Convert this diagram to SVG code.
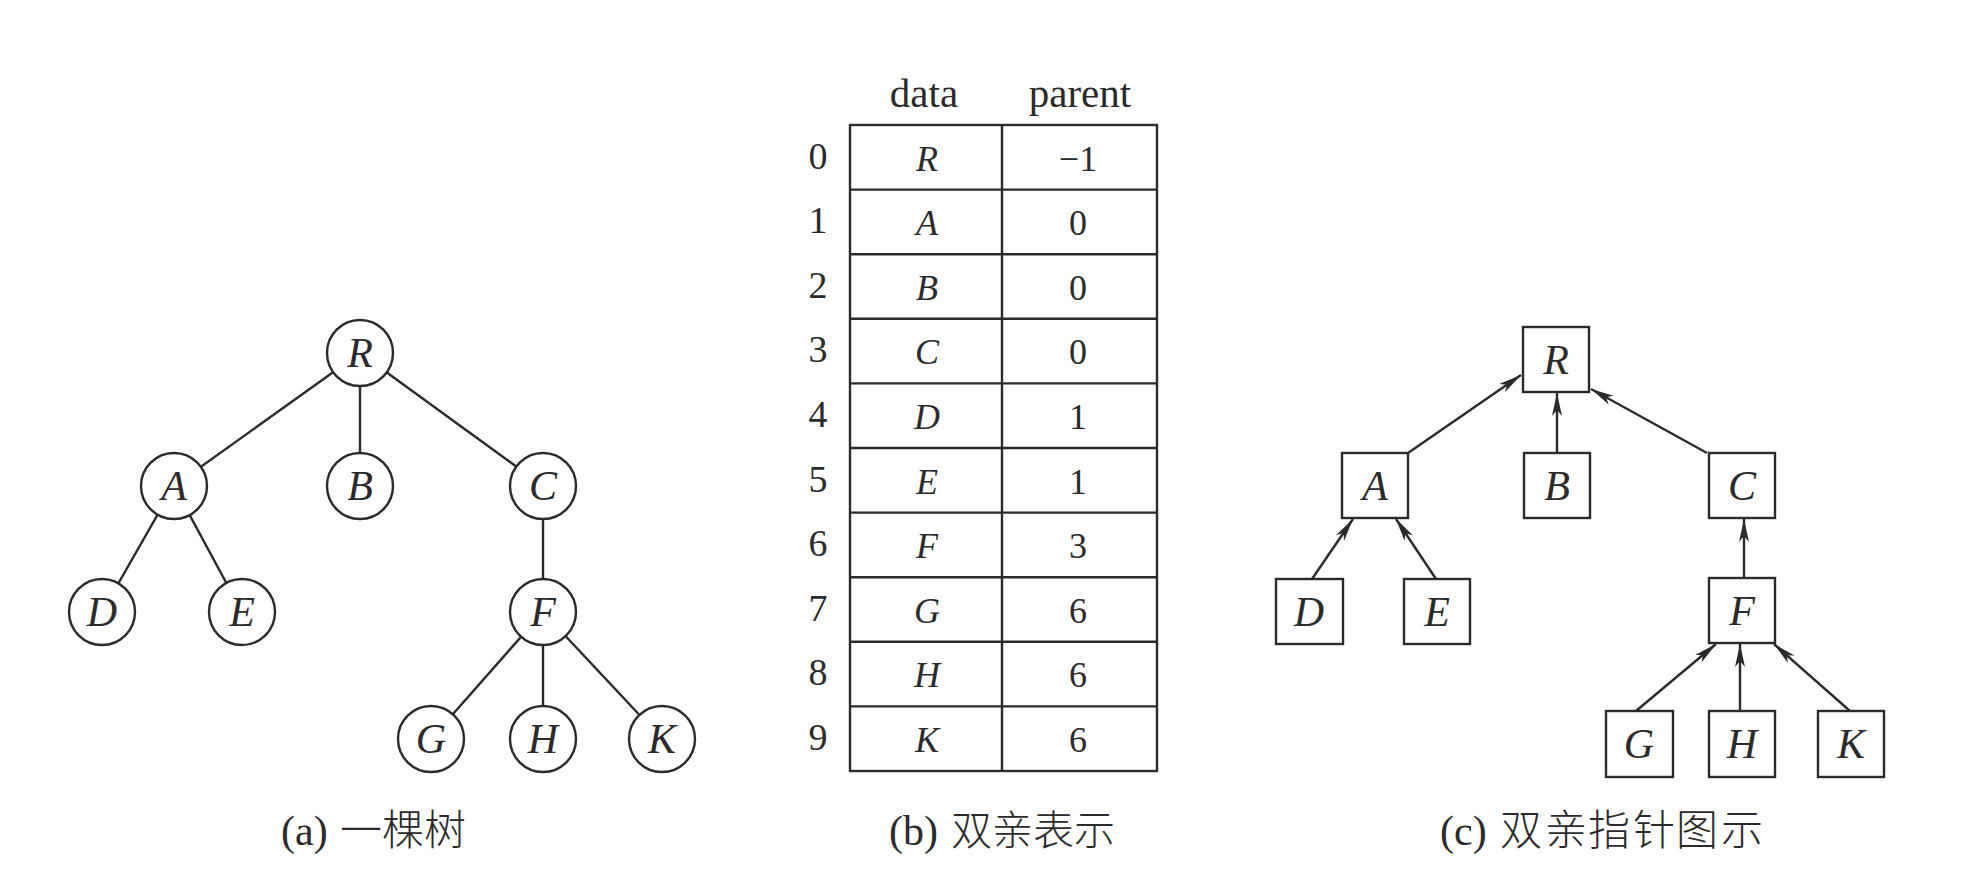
<svg xmlns="http://www.w3.org/2000/svg" width="1974" height="894" viewBox="0 0 1974 894">
<style>
.ln{stroke:#2b2b2b;stroke-width:2.4;fill:none}
.nd{stroke:#2b2b2b;stroke-width:2.4;fill:#fff}
.it{font-family:"Liberation Serif",serif;font-style:italic;fill:#2b2b2b;text-anchor:middle}
.rm{font-family:"Liberation Serif",serif;fill:#2b2b2b;text-anchor:middle}
.cap{font-family:"Liberation Serif",serif;fill:#2b2b2b;font-size:42px}
.cj{font-family:"Noto Sans CJK SC",sans-serif;font-weight:300;font-size:42px}
.t42{font-size:42px}.t36{font-size:36px}.t38{font-size:38px}
</style>
<defs>
<marker id="ah" markerUnits="userSpaceOnUse" markerWidth="26" markerHeight="12" refX="24" refY="6" orient="auto">
<path d="M24,6 L1,1 L7,6 L1,11 Z" fill="#2b2b2b"/>
</marker>
</defs>
<rect width="1974" height="894" fill="#fff"/>

<!-- (a) tree edges -->
<g id="tree-edges">
<line class="ln" x1="360" y1="353" x2="174" y2="486"/>
<line class="ln" x1="360" y1="353" x2="360" y2="486"/>
<line class="ln" x1="360" y1="353" x2="543" y2="486"/>
<line class="ln" x1="174" y1="486" x2="102" y2="612"/>
<line class="ln" x1="174" y1="486" x2="242" y2="612"/>
<line class="ln" x1="543" y1="486" x2="543" y2="612"/>
<line class="ln" x1="543" y1="612" x2="431" y2="739"/>
<line class="ln" x1="543" y1="612" x2="543" y2="739"/>
<line class="ln" x1="543" y1="612" x2="662" y2="739"/>
</g>
<g id="tR"><circle class="nd" cx="360" cy="353" r="33"/><text class="it t42" x="360" y="367">R</text></g>
<g id="tA"><circle class="nd" cx="174" cy="486" r="33"/><text class="it t42" x="174" y="500">A</text></g>
<g id="tB"><circle class="nd" cx="360" cy="486" r="33"/><text class="it t42" x="360" y="500">B</text></g>
<g id="tC"><circle class="nd" cx="543" cy="486" r="33"/><text class="it t42" x="543" y="500">C</text></g>
<g id="tD"><circle class="nd" cx="102" cy="612" r="33"/><text class="it t42" x="102" y="626">D</text></g>
<g id="tE"><circle class="nd" cx="242" cy="612" r="33"/><text class="it t42" x="242" y="626">E</text></g>
<g id="tF"><circle class="nd" cx="543" cy="612" r="33"/><text class="it t42" x="543" y="626">F</text></g>
<g id="tG"><circle class="nd" cx="431" cy="739" r="33"/><text class="it t42" x="431" y="753">G</text></g>
<g id="tH"><circle class="nd" cx="543" cy="739" r="33"/><text class="it t42" x="543" y="753">H</text></g>
<g id="tK"><circle class="nd" cx="662" cy="739" r="33"/><text class="it t42" x="662" y="753">K</text></g>
<text id="capA" class="cap" x="281" y="845">(a)<tspan class="cj" x="340 382 424">一棵树</tspan></text>

<!-- (b) table -->
<g id="table">
<text class="rm" style="font-size:41px" x="924" y="107">data</text>
<text class="rm" style="font-size:41px" x="1080" y="107">parent</text>
<rect class="ln" x="850" y="125" width="307" height="646"/>
<line class="ln" x1="1002" y1="125" x2="1002" y2="771"/>
<line class="ln" x1="850" y1="189.6" x2="1157" y2="189.6"/>
<line class="ln" x1="850" y1="254.2" x2="1157" y2="254.2"/>
<line class="ln" x1="850" y1="318.8" x2="1157" y2="318.8"/>
<line class="ln" x1="850" y1="383.4" x2="1157" y2="383.4"/>
<line class="ln" x1="850" y1="448" x2="1157" y2="448"/>
<line class="ln" x1="850" y1="512.6" x2="1157" y2="512.6"/>
<line class="ln" x1="850" y1="577.2" x2="1157" y2="577.2"/>
<line class="ln" x1="850" y1="641.8" x2="1157" y2="641.8"/>
<line class="ln" x1="850" y1="706.4" x2="1157" y2="706.4"/>
<g class="rm t38">
<text x="818" y="169">0</text><text x="818" y="233">1</text><text x="818" y="298">2</text><text x="818" y="362">3</text><text x="818" y="427">4</text>
<text x="818" y="492">5</text><text x="818" y="556">6</text><text x="818" y="621">7</text><text x="818" y="685">8</text><text x="818" y="750">9</text>
</g>
<g class="it t36">
<text x="927" y="171">R</text><text x="927" y="235">A</text><text x="927" y="300">B</text><text x="927" y="364">C</text><text x="927" y="429">D</text>
<text x="927" y="494">E</text><text x="927" y="558">F</text><text x="927" y="623">G</text><text x="927" y="687">H</text><text x="927" y="752">K</text>
</g>
<g class="rm t36">
<text x="1078" y="171">−1</text><text x="1078" y="235">0</text><text x="1078" y="300">0</text><text x="1078" y="364">0</text><text x="1078" y="429">1</text>
<text x="1078" y="494">1</text><text x="1078" y="558">3</text><text x="1078" y="623">6</text><text x="1078" y="687">6</text><text x="1078" y="752">6</text>
</g>
</g>
<text id="capB" class="cap" x="889" y="845">(b)<tspan class="cj" style="font-size:41px" x="951 992 1033 1074">双亲表示</tspan></text>

<!-- (c) parent pointers -->
<g id="pointers">
<line class="ln" x1="1408" y1="453" x2="1521" y2="375" marker-end="url(#ah)"/>
<line class="ln" x1="1557" y1="453" x2="1557" y2="393" marker-end="url(#ah)"/>
<line class="ln" x1="1707" y1="453" x2="1591" y2="389" marker-end="url(#ah)"/>
<line class="ln" x1="1312" y1="579" x2="1353" y2="519" marker-end="url(#ah)"/>
<line class="ln" x1="1436" y1="579" x2="1396" y2="519" marker-end="url(#ah)"/>
<line class="ln" x1="1744" y1="578" x2="1744" y2="519" marker-end="url(#ah)"/>
<line class="ln" x1="1636" y1="711" x2="1716" y2="644" marker-end="url(#ah)"/>
<line class="ln" x1="1740" y1="711" x2="1740" y2="644" marker-end="url(#ah)"/>
<line class="ln" x1="1850" y1="711" x2="1774" y2="644" marker-end="url(#ah)"/>
</g>
<g id="cR"><rect class="nd" x="1523" y="327" width="66" height="65"/><text class="it t42" x="1556" y="374">R</text></g>
<g id="cA"><rect class="nd" x="1342" y="453" width="66" height="65"/><text class="it t42" x="1375" y="500">A</text></g>
<g id="cB"><rect class="nd" x="1524" y="453" width="66" height="65"/><text class="it t42" x="1557" y="500">B</text></g>
<g id="cC"><rect class="nd" x="1709" y="453" width="66" height="65"/><text class="it t42" x="1742" y="500">C</text></g>
<g id="cD"><rect class="nd" x="1276" y="579" width="67" height="65"/><text class="it t42" x="1309" y="626">D</text></g>
<g id="cE"><rect class="nd" x="1404" y="579" width="66" height="65"/><text class="it t42" x="1437" y="626">E</text></g>
<g id="cF"><rect class="nd" x="1709" y="578" width="66" height="65"/><text class="it t42" x="1742" y="625">F</text></g>
<g id="cG"><rect class="nd" x="1606" y="711" width="67" height="66"/><text class="it t42" x="1639" y="758">G</text></g>
<g id="cH"><rect class="nd" x="1709" y="711" width="66" height="66"/><text class="it t42" x="1742" y="758">H</text></g>
<g id="cK"><rect class="nd" x="1818" y="711" width="66" height="66"/><text class="it t42" x="1851" y="758">K</text></g>
<text id="capC" class="cap" x="1440" y="845">(c)<tspan class="cj" x="1500 1545 1588 1633 1676 1721">双亲指针图示</tspan></text>
</svg>
